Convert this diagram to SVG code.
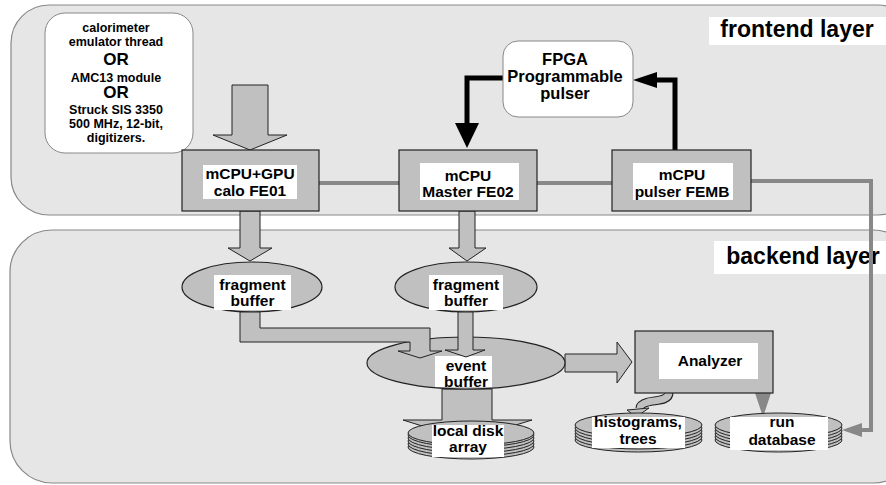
<svg xmlns="http://www.w3.org/2000/svg" width="886" height="485" viewBox="0 0 886 485">
<style>
text{font-family:"Liberation Sans",Arial,sans-serif;font-weight:bold;fill:#000;text-anchor:middle}
.layer{fill:#e6e6e6;stroke:#888;stroke-width:1.2}
.box{fill:#c0c0c0;stroke:#222;stroke-width:1.2}
.lbl{fill:#fff;stroke:none}
.t{font-size:15.5px}
.s{font-size:12.5px}
.or{font-size:17px}
.fat{fill:#c0c0c0;stroke:#222;stroke-width:1}
.bus{fill:none;stroke:#888;stroke-width:4}
.blk{fill:none;stroke:#000;stroke-width:5}
.disk{fill:#c0c0c0;stroke:#222;stroke-width:1}
</style>
<rect width="886" height="485" fill="#fff"/>
<g id="frontend-layer">
<rect class="layer" x="11" y="5" width="905" height="210" rx="38"/>
<rect class="lbl" x="709" y="17" width="177" height="28"/>
<text x="797" y="37" style="font-size:23px">frontend layer</text>
</g>
<g id="backend-layer">
<rect class="layer" x="10" y="230" width="905" height="253" rx="42"/>
<rect class="lbl" x="714" y="241" width="172" height="33"/>
<text x="803" y="264" style="font-size:23px">backend layer</text>
</g>
<g id="connectors">
<line class="bus" x1="319" y1="183" x2="399" y2="183"/>
<line class="bus" x1="537" y1="183" x2="612" y2="183"/>
<polyline class="bus" points="751,181 871,181 871,430 858,430"/>
<polygon points="842,430 862,423 862,437" fill="#888"/>
<polyline class="blk" points="503,78 467,78 467,125"/>
<polygon points="455,123 479,123 467,148" fill="#000"/>
<polyline class="blk" points="675,150 675,80 655,80"/>
<polygon points="633,80 657,72 657,88" fill="#000"/>
<polygon class="fat" points="232,85 268,85 268,135 287,135 250,150 213,135 232,135"/>
<polygon class="fat" points="240,211 260,211 260,248 272,248 250,261 228,248 240,248"/>
<polygon class="fat" points="459,211 475,211 475,248 486,248 467,261 449,248 459,248"/>
<polygon class="fat" points="565,354 617,354 617,342 632,362 617,383 617,372 565,372"/>
<polygon class="fat" points="442,389 492,389 492,420 532,420 467,440 403,420 442,420"/>
<path d="M669 393 C669 401 656 400 648 402 C641 404 640 406 640 408" fill="none" stroke="#222" stroke-width="9"/>
<path d="M669 392 C669 401 656 400 648 402 C641 404 640 406 640 408" fill="none" stroke="#c0c0c0" stroke-width="7"/>
<polygon points="627,410 649,408 636,417" fill="#c0c0c0" stroke="#222" stroke-width="1"/>
<polygon points="755,393 771,393 763,417" fill="#888"/>
</g>
<g id="input-source">
<rect x="45" y="13" width="148" height="140" rx="20" fill="#fff" stroke="#888" stroke-width="1"/>
<text class="s" x="116" y="32">calorimeter</text>
<text class="s" x="116" y="46">emulator thread</text>
<text class="or" x="116" y="65">OR</text>
<text class="s" x="116" y="81.5">AMC13  module</text>
<text class="or" x="116" y="98">OR</text>
<text class="s" x="116" y="113.5">Struck SIS 3350</text>
<text class="s" x="116" y="128">500 MHz, 12-bit,</text>
<text class="s" x="116" y="142">digitizers.</text>
</g>
<g id="fe01">
<rect class="box" x="182" y="150" width="137" height="61"/>
<rect class="lbl" x="203" y="165" width="94" height="34"/>
<text class="t" x="250" y="179">mCPU+GPU</text>
<text class="t" x="250" y="195.5">calo FE01</text>
</g>
<g id="fe02">
<rect class="box" x="399" y="150" width="138" height="61"/>
<rect class="lbl" x="420" y="163" width="99" height="37"/>
<text class="t" x="468" y="181">mCPU</text>
<text class="t" x="468" y="197">Master FE02</text>
</g>
<g id="femb">
<rect class="box" x="612" y="150" width="139" height="61"/>
<rect class="lbl" x="633" y="163" width="100" height="37"/>
<text class="t" x="682" y="180">mCPU</text>
<text class="t" x="682" y="196.5">pulser FEMB</text>
</g>
<g id="fpga">
<rect x="503" y="41" width="130" height="76" rx="15" fill="#fff" stroke="#888" stroke-width="1"/>
<text x="565" y="65" style="font-size:16.5px">FPGA</text>
<text x="565" y="82" style="font-size:16.5px">Programmable</text>
<text x="565" y="99" style="font-size:16.5px">pulser</text>
</g>
<g id="fragment-buffer-1">
<ellipse class="box" cx="252" cy="287" rx="70" ry="25"/>
<rect class="lbl" x="214" y="275" width="77" height="35"/>
<text class="t" x="252.5" y="290">fragment</text>
<text class="t" x="252.5" y="306">buffer</text>
</g>
<g id="fragment-buffer-2">
<ellipse class="box" cx="466" cy="287" rx="71" ry="25"/>
<rect class="lbl" x="429" y="275" width="74" height="35"/>
<text class="t" x="466" y="290">fragment</text>
<text class="t" x="466" y="306">buffer</text>
</g>
<g id="event-buffer">
<ellipse class="box" cx="466" cy="363" rx="99" ry="26"/>
<rect class="lbl" x="435" y="356" width="57" height="31"/>
<text class="t" x="466" y="371">event</text>
<text class="t" x="466" y="387">buffer</text>
</g>
<g id="frag1-to-event">
<polygon class="fat" points="240,312 240,342 410,342 410,351 398,351 420,358 442,351 430,351 430,328 260,328 260,312"/>
<polygon class="fat" points="458,312 473,312 473,350 485,350 466,357 445,350 458,350"/>
</g>
<g id="local-disk">
<ellipse class="disk" cx="471" cy="447" rx="63" ry="12"/>
<ellipse class="disk" cx="471" cy="444" rx="63" ry="12"/>
<ellipse class="disk" cx="471" cy="441" rx="63" ry="12"/>
<ellipse class="disk" cx="471" cy="438" rx="63" ry="12"/>
<ellipse class="disk" cx="471" cy="435" rx="63" ry="12"/>
<ellipse class="disk" cx="471" cy="433" rx="63" ry="12"/>
<rect class="lbl" x="432" y="425" width="72" height="32"/>
<text class="t" x="468" y="436">local disk</text>
<text class="t" x="468" y="452">array</text>
</g>
<g id="analyzer">
<rect class="box" x="635" y="331" width="138" height="62"/>
<rect class="lbl" x="659" y="343" width="99" height="36"/>
<text class="t" x="710" y="366">Analyzer</text>
</g>
<g id="histograms">
<ellipse class="disk" cx="638.5" cy="440" rx="63.5" ry="12"/>
<ellipse class="disk" cx="638.5" cy="437" rx="63.5" ry="12"/>
<ellipse class="disk" cx="638.5" cy="434" rx="63.5" ry="12"/>
<ellipse class="disk" cx="638.5" cy="431" rx="63.5" ry="12"/>
<ellipse class="disk" cx="638.5" cy="428" rx="63.5" ry="12"/>
<ellipse class="disk" cx="638.5" cy="425" rx="63.5" ry="12"/>
<rect class="lbl" x="592" y="417" width="93" height="31"/>
<text class="t" x="638" y="427">histograms,</text>
<text class="t" x="638" y="444">trees</text>
</g>
<g id="run-database">
<ellipse class="disk" cx="778.5" cy="440" rx="63.5" ry="12"/>
<ellipse class="disk" cx="778.5" cy="437" rx="63.5" ry="12"/>
<ellipse class="disk" cx="778.5" cy="434" rx="63.5" ry="12"/>
<ellipse class="disk" cx="778.5" cy="431" rx="63.5" ry="12"/>
<ellipse class="disk" cx="778.5" cy="428" rx="63.5" ry="12"/>
<ellipse class="disk" cx="778.5" cy="425" rx="63.5" ry="12"/>
<rect class="lbl" x="730" y="417" width="98" height="33"/>
<text class="t" x="782" y="427">run</text>
<text class="t" x="782" y="445">database</text>
</g>
</svg>
